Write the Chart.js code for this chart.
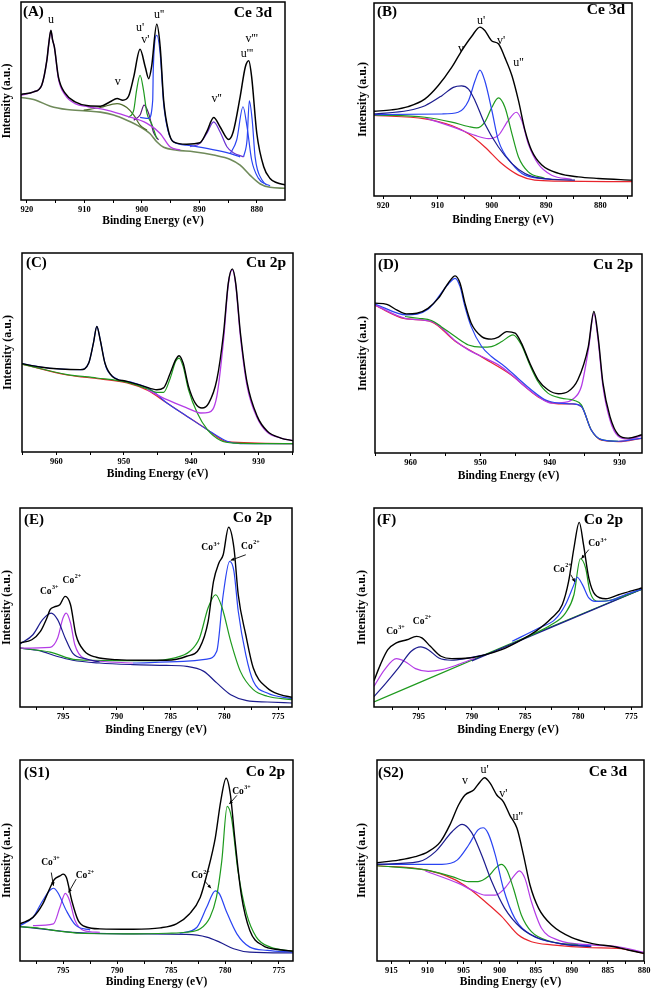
<!DOCTYPE html>
<html><head><meta charset="utf-8">
<script src="https://cdn.jsdelivr.net/npm/chart.js@4.4.0/dist/chart.umd.min.js"></script>
<style>
body{margin:0;background:#fff;width:652px;height:992px;position:relative;overflow:hidden}
canvas{position:absolute}
</style>
</head><body>
<script>
// ---------- DATA: [binding energy (eV), intensity (a.u., 0-100 of frame)] ----------
// Panel A  Ce 3d
const A_total=[[921.0,53.3],[918.8,54.6],[917.4,58.0],[916.5,70.6],[916.2,78.2],[915.8,85.7],[915.5,80.7],[915.2,77.3],[914.5,62.2],[913.3,53.8],[911.6,49.6],[909.3,47.6],[907.2,47.4],[905.5,49.6],[904.3,51.3],[903.3,50.4],[902.3,52.4],[901.4,62.2],[900.3,76.1],[899.4,67.2],[898.8,61.3],[898.3,67.2],[897.4,88.7],[896.8,77.3],[896.2,50.4],[895.4,35.3],[894.5,29.4],[892.2,28.2],[889.9,28.9],[888.7,34.5],[887.5,41.7],[886.4,37.0],[884.9,30.6],[884.1,34.5],[882.9,52.1],[882.0,67.2],[881.4,70.3],[880.9,62.2],[880.0,33.6],[878.8,16.8],[877.7,10.9],[876.5,8.7],[875.1,7.6]];
const A_bg=[[921.0,51.8],[918.8,50.8],[915.9,47.4],[913.0,45.7],[909.6,45.0],[907.2,44.4],[904.9,42.9],[902.6,40.3],[900.3,37.0],[898.6,33.6],[897.4,29.4],[896.2,26.6],[893.9,25.2],[891.0,24.4],[887.5,22.7],[884.6,20.5],[882.9,17.6],[881.2,12.6],[879.4,8.1],[877.7,6.4],[875.1,5.9]];
const A_u=[[921.0,52.9],[918.8,54.6],[917.4,58.0],[916.5,70.6],[916.2,78.2],[915.8,85.4],[915.5,80.7],[915.2,77.3],[914.5,61.3],[913.3,52.9],[911.6,48.7],[909.3,47.1],[906.1,45.4],[902.6,42.4],[899.1,38.7],[896.8,33.6],[895.1,26.9],[893.3,25.2]];
const A_v=[[910.1,45.4],[907.2,46.7],[904.3,48.7],[902.6,46.7],[901.4,42.9],[900.3,37.8],[899.1,35.3]];
const A_u1=[[902.3,41.7],[901.4,45.4],[900.9,55.5],[900.3,63.0],[899.7,55.5],[899.1,43.7],[898.3,38.7],[897.4,31.0]];
const A_v1=[[901.4,40.3],[900.3,42.9],[899.6,47.9],[898.8,43.7],[898.0,34.5],[897.1,30.3]];
const A_u2=[[900.3,41.7],[898.8,41.2],[898.1,50.4],[898.0,66.0],[897.4,83.2],[896.8,73.9],[896.2,48.7],[895.4,34.5],[894.5,29.4],[892.2,27.7],[888.7,26.1],[885.2,23.9],[882.9,21.8]];
const A_v2=[[891.6,26.9],[889.9,28.6],[888.7,33.6],[887.5,39.5],[886.4,34.5],[885.2,26.9],[884.1,23.9],[882.3,21.8]];
const A_u3=[[884.6,23.5],[883.5,30.3],[882.4,47.1],[881.7,37.0],[880.9,20.2],[879.7,10.9],[878.3,7.6]];
const A_v3=[[882.3,21.8],[881.7,30.3],[881.3,50.1],[880.8,40.3],[880.3,21.8],[879.1,10.1],[877.7,7.1]];
const A_marks=[["u","",915.8,90.8],["u'","",900.3,87.1],["v'","",899.4,80.7],["u''","",897.0,93.3],["v","",904.2,59.7],["v''","",887.0,51.3],["v'''","",880.9,81.5],["u'''","",881.7,73.9]];

// Panel B  Ce 3d
const B_total=[[921.7,43.9],[918.5,44.6],[915.4,46.3],[912.3,50.3],[909.9,57.1],[907.4,66.6],[905.6,75.1],[903.7,82.8],[902.2,87.5],[901.3,85.8],[900.0,80.3],[898.8,78.9],[897.6,71.7],[896.3,62.3],[895.1,49.4],[893.9,34.0],[892.7,23.7],[890.8,16.0],[887.7,11.7],[884.1,9.9],[880.4,9.1],[874.2,8.2]];
const B_v=[[921.7,42.5],[915.4,44.3],[912.3,46.8],[909.2,52.0],[907.1,56.3],[905.6,57.1],[904.3,55.4],[903.1,49.4],[901.3,37.4],[898.8,25.4],[896.3,16.8],[893.9,11.7],[890.8,9.1],[884.7,8.2]];
const B_u1=[[921.7,42.2],[909.2,42.5],[906.2,43.4],[904.3,49.4],[903.1,59.7],[902.2,65.2],[901.3,59.7],[900.0,44.3],[898.8,28.8],[896.3,16.8],[893.9,10.8],[889.0,8.6]];
const B_v1=[[921.7,42.0],[912.3,40.8],[907.4,38.3],[904.3,36.0],[902.8,35.3],[901.3,38.3],[900.0,46.0],[898.8,50.8],[897.6,46.0],[896.3,32.2],[895.1,20.2],[893.3,12.5],[890.2,9.1]];
const B_u2=[[912.3,40.5],[906.2,34.8],[903.1,31.4],[900.6,29.7],[898.8,31.4],[897.0,39.1],[895.5,43.4],[894.5,39.1],[893.3,27.1],[891.5,16.8],[889.0,10.8],[885.3,8.6]];
const B_bg=[[921.7,41.7],[912.3,40.0],[907.4,36.5],[904.3,32.2],[901.3,25.4],[898.2,16.8],[895.1,10.8],[892.1,8.2],[887.7,7.7],[874.2,7.4]];
const B_marks=[["u'","",902.0,90.6],["v","",905.7,76.0],["v'","",898.3,80.3],["u''","",895.1,69.1]];

// Panel C  Cu 2p
const C_total=[[965.1,44.4],[962.4,42.7],[959.4,41.7],[956.4,41.4],[955.2,44.7],[954.5,54.8],[954.0,63.1],[953.5,56.4],[952.8,44.7],[951.7,38.0],[949.5,35.5],[947.0,33.0],[945.1,31.3],[944.1,32.2],[943.1,39.7],[942.3,46.4],[941.8,48.4],[941.2,44.7],[940.4,33.0],[939.4,24.6],[938.4,22.1],[937.4,24.6],[936.2,36.3],[935.2,59.8],[934.5,84.9],[933.9,92.0],[933.4,84.9],[932.7,59.8],[931.7,34.7],[930.2,17.9],[928.7,10.4],[926.7,7.0],[924.9,5.7]];
const C_blue=[[965.1,44.4],[962.4,42.7],[959.4,41.7],[956.4,41.4],[955.2,44.7],[954.5,54.8],[954.0,63.1],[953.5,56.4],[952.8,44.7],[952.5,41.4],[951.0,36.7],[948.5,34.7],[946.0,31.3],[943.6,24.6],[940.6,17.9],[937.6,11.2],[934.7,5.4],[932.7,4.2],[924.9,4.2]];
const C_green=[[965.1,44.2],[958.4,38.9],[954.0,37.2],[949.5,35.0],[946.5,31.7],[945.1,30.0],[944.1,30.0],[943.1,37.2],[942.3,45.6],[941.8,47.2],[941.2,43.0],[940.4,31.3],[939.1,19.6],[937.6,11.2],[935.7,5.9],[933.7,4.5],[924.9,4.2]];
const C_mag=[[946.5,31.3],[943.6,26.3],[940.6,22.1],[938.6,19.6],[937.4,19.9],[936.2,28.0],[935.2,56.4],[934.5,84.1],[933.9,91.6],[933.4,84.1],[932.7,58.1],[931.7,33.0],[930.2,17.1],[928.7,9.9],[926.7,7.0],[924.9,5.7]];
const C_red=[[965.1,44.2],[958.4,38.7],[953.5,36.7],[949.5,34.7],[946.5,31.0],[943.6,24.6],[940.6,17.9],[937.6,11.2],[934.7,5.2],[924.9,4.2]];

// Panel D  Cu 2p
const D_total=[[965.1,75.3],[963.4,74.7],[962.0,71.9],[960.6,69.9],[959.1,70.2],[957.5,72.7],[956.0,77.8],[954.6,85.3],[953.6,89.0],[952.9,85.3],[952.2,75.3],[951.3,65.2],[949.8,58.5],[948.4,57.2],[947.4,58.2],[946.2,61.0],[945.0,60.2],[944.1,55.2],[942.9,45.2],[941.7,36.8],[940.3,31.8],[938.8,29.8],[937.4,30.9],[936.0,36.8],[934.5,53.5],[933.7,71.1],[933.1,58.5],[932.4,35.1],[931.4,18.4],[930.2,9.2],[928.8,7.5],[926.8,9.2]];
const D_blue=[[965.1,74.9],[960.6,69.4],[957.5,72.2],[954.6,84.8],[953.6,87.8],[952.9,83.6],[952.2,73.6],[951.3,63.5],[949.8,53.5],[948.4,48.5],[946.5,43.5],[944.6,37.6],[942.7,31.8],[940.7,26.8],[938.8,25.1],[936.9,24.7],[935.5,23.4],[934.1,11.7],[932.6,6.7],[930.2,5.9],[926.8,7.5]];
const D_green=[[960.8,68.6],[958.9,67.7],[957.0,66.6],[955.6,63.5],[953.6,58.5],[951.7,54.3],[949.8,53.2],[948.4,53.5],[946.9,56.0],[945.3,59.4],[944.1,54.3],[942.9,44.3],[941.7,35.8],[940.3,30.1],[938.4,27.6],[936.5,26.4],[935.5,24.2],[934.1,11.7],[932.6,6.7],[930.2,5.9]];
const D_mag=[[965.1,74.4],[960.8,67.7],[957.0,66.1],[955.6,63.0],[953.6,56.4],[951.7,51.8],[949.8,48.5],[947.4,44.3],[945.5,39.3],[943.6,33.4],[941.7,28.4],[939.8,25.1],[937.9,25.4],[936.7,27.1],[935.5,33.4],[934.5,51.8],[933.7,70.2],[933.1,56.9],[932.4,33.4],[931.4,16.7],[930.2,8.4],[928.8,7.0],[926.8,8.7]];
const D_red=[[965.1,74.2],[960.8,67.5],[957.0,65.9],[953.6,56.2],[949.8,48.3],[945.5,39.1],[941.7,28.2],[938.8,24.7],[936.9,24.7],[935.5,23.4],[934.1,11.7],[932.6,6.4],[930.2,5.7],[926.8,7.4]];

// Panel E  Co 2p
const E_total=[[799.0,32.2],[797.9,33.8],[797.1,38.0],[796.5,44.7],[796.2,48.9],[795.8,50.3],[795.3,51.4],[794.8,55.6],[794.3,51.4],[793.8,36.3],[793.0,28.0],[791.9,25.0],[790.0,23.8],[787.8,23.5],[785.4,23.5],[783.5,25.5],[782.3,29.6],[781.5,43.0],[781.0,63.1],[780.5,72.4],[780.1,76.5],[779.6,90.3],[779.1,79.9],[778.7,56.4],[778.0,36.3],[777.3,19.6],[776.0,9.5],[774.8,6.2],[773.7,4.9]];
const E_co3a=[[799.0,31.7],[797.8,36.3],[796.9,43.9],[796.1,47.2],[795.5,43.9],[794.8,34.7],[794.1,27.1],[792.8,24.1],[791.6,22.6]];
const E_co2a=[[799.0,29.6],[796.2,30.0],[795.5,34.7],[795.0,44.7],[794.7,47.2],[794.3,42.2],[793.9,31.3],[793.1,24.6],[791.6,23.0],[788.5,22.1]];
const E_co3b=[[799.0,29.6],[796.2,27.6],[793.8,23.8],[790.0,23.3],[786.9,23.3],[784.7,24.6],[783.2,28.0],[782.3,34.7],[781.5,49.9],[780.8,56.4],[780.2,49.9],[779.4,33.0],[778.5,17.9],[777.3,8.7],[776.0,5.4],[773.7,3.7]];
const E_co2b=[[788.5,22.1],[783.8,22.9],[781.6,24.1],[780.7,28.0],[780.1,56.4],[779.5,73.2],[779.1,68.2],[778.7,48.1],[778.0,26.3],[777.3,12.9],[776.0,7.0],[773.7,4.2]];
const E_bg=[[799.0,29.6],[797.2,28.3],[795.6,25.5],[794.1,23.5],[791.6,22.1],[788.5,21.3],[785.4,20.9],[783.5,20.4],[781.9,17.9],[780.7,12.1],[779.4,6.2],[777.9,3.2],[776.0,2.5],[773.7,2.0]];
const E_marks=[["Co","3+",796.3,58.1],["Co","2+",794.2,63.5],["Co","3+",781.3,79.9],["Co","2+",777.6,80.7]];
const E_arrows=[[778.0,76.5,779.4,73.7]];

// Panel F  Co 2p
const F_total=[[799.2,13.2],[798.6,21.3],[797.9,28.8],[797.1,32.2],[796.1,33.8],[795.2,35.5],[794.7,34.7],[793.9,30.5],[792.9,25.5],[791.9,24.3],[790.3,24.6],[788.7,26.3],[787.2,28.8],[785.6,33.0],[784.0,38.0],[782.5,44.7],[781.5,51.4],[780.9,63.1],[780.4,79.9],[779.9,92.8],[779.5,81.6],[779.0,64.8],[778.4,56.4],[777.4,54.4],[776.2,56.4],[774.9,58.5],[774.0,59.8]];
const F_bg=[[799.2,2.5],[786.6,31.3],[774.0,59.3]];
const F_bg2=[[790.0,23.2],[774.0,59.3]];
const F_co2a=[[799.2,5.2],[798.2,11.2],[796.9,19.6],[795.7,28.0],[794.8,30.2],[794.1,28.8],[793.1,24.6],[791.9,23.5],[790.6,24.3],[788.5,26.6]];
const F_co3a=[[799.2,10.4],[798.2,18.8],[797.1,24.3],[796.3,22.9],[795.3,19.3],[794.1,17.9],[792.8,18.8],[791.3,21.3],[789.7,24.6]];
const F_co2b=[[786.2,33.0],[783.7,39.7],[782.2,43.9],[781.2,51.4],[780.4,61.5],[780.1,65.2],[779.6,61.5],[779.0,54.8],[778.4,53.1],[777.1,53.4],[775.6,56.4],[774.0,59.3]];
const F_co3b=[[785.0,34.7],[782.5,41.4],[781.2,47.2],[780.4,56.4],[779.8,74.5],[779.3,69.8],[778.9,58.1],[778.1,53.1],[776.8,53.9],[774.0,59.3]];
const F_marks=[["Co","3+",797.2,38.0],["Co","2+",794.7,43.0],["Co","2+",781.5,69.0],["Co","3+",778.2,81.9]];
const F_arrows=[[780.7,66.5,780.3,62.8],[779.0,79.1,779.7,74.5]];

// Panel S1  Co 2p
const S1_total=[[799.0,18.5],[797.8,21.7],[796.9,28.3],[796.2,36.6],[795.8,40.7],[795.3,42.3],[795.0,43.2],[794.7,41.5],[794.2,30.0],[793.6,20.1],[792.8,16.8],[791.6,16.0],[788.5,15.8],[786.0,16.5],[784.5,18.5],[783.3,23.4],[782.3,31.6],[781.6,44.8],[780.9,61.3],[780.4,79.4],[779.9,90.9],[779.5,82.7],[779.1,61.3],[778.5,33.3],[777.7,15.2],[776.5,7.7],[774.9,5.6],[773.7,4.9]];
const S1_co3a=[[799.0,17.6],[797.8,21.7],[796.9,30.0],[796.2,35.3],[795.9,36.2],[795.5,34.1],[794.7,25.0],[793.8,17.6],[792.5,15.5]];
const S1_co2a=[[797.8,17.6],[795.9,18.5],[795.3,26.7],[794.8,33.6],[794.4,30.0],[793.9,20.1],[793.1,15.2],[791.6,14.3]];
const S1_co3b=[[799.0,17.1],[797.2,16.3],[795.3,14.8],[793.5,13.8],[788.5,13.5],[785.4,13.8],[783.6,14.3],[782.3,16.0],[781.4,21.7],[780.8,31.6],[780.3,49.8],[779.8,76.9],[779.4,71.2],[778.8,44.8],[778.0,23.4],[777.1,11.9],[775.8,6.9],[773.7,4.9]];
const S1_co2b=[[784.2,13.8],[782.6,16.8],[781.7,26.7],[780.9,34.9],[780.5,33.3],[779.9,25.0],[778.9,13.5],[777.7,6.9],[776.1,5.3],[773.7,4.4]];
const S1_bg=[[799.0,17.1],[796.2,15.5],[794.1,14.2],[788.5,13.5],[783.6,13.2],[781.7,11.9],[780.5,9.4],[779.2,6.1],[777.7,4.4],[773.7,4.0]];
const S1_marks=[["Co","3+",796.2,48.9],["Co","2+",793.0,42.3],["Co","2+",782.3,42.3],["Co","3+",778.5,84.3]];
const S1_arrows=[[796.1,44.0,795.9,37.4],[793.8,40.7,794.5,34.1],[781.9,39.9,781.3,36.2],[778.9,82.4,779.6,78.1]];

// Panel S2  Ce 3d
const S2_total=[[917.0,48.9],[914.0,50.2],[911.7,51.9],[909.9,54.4],[908.2,59.4],[906.9,67.7],[905.7,77.6],[904.8,82.6],[903.6,85.1],[902.7,89.2],[902.1,91.2],[901.3,88.4],[900.4,82.6],[899.5,79.3],[898.6,72.6],[897.6,66.0],[896.7,52.7],[895.8,37.8],[894.6,26.2],[892.8,17.9],[890.0,11.6],[887.3,8.8],[884.1,7.1],[882.2,5.5],[880.0,3.8]];
const S2_v=[[917.0,48.1],[911.2,49.4],[908.9,54.4],[906.6,64.3],[905.2,68.0],[903.9,64.0],[902.5,52.7],[901.1,39.5],[899.3,26.2],[897.0,16.3],[894.6,11.3],[891.0,8.3],[887.3,7.1]];
const S2_u1=[[917.0,48.1],[908.0,48.1],[905.9,50.2],[904.3,57.7],[903.0,65.2],[902.3,66.3],[901.6,63.5],[900.6,52.7],[899.5,36.2],[897.9,21.2],[895.6,12.9],[891.9,8.8],[887.3,7.5]];
const S2_v1=[[917.0,47.4],[910.3,45.3],[906.6,42.0],[904.3,39.5],[903.0,39.5],[901.6,42.0],[900.6,46.1],[899.8,48.1],[899.0,45.3],[898.1,36.2],[897.0,22.9],[895.6,14.6],[892.8,9.6],[889.1,8.0]];
const S2_u2=[[910.3,44.8],[905.7,38.6],[903.4,34.5],[902.0,32.8],[900.6,32.8],[899.3,36.2],[897.9,42.8],[897.3,44.8],[896.5,41.1],[895.6,29.5],[894.2,16.3],[891.9,10.4],[887.3,8.0],[883.6,7.1],[880.0,4.3]];
const S2_bg=[[917.0,47.4],[910.3,45.3],[906.6,41.1],[904.3,36.2],[902.0,29.5],[899.7,22.1],[897.4,12.9],[895.6,9.6],[892.8,8.0],[887.3,6.6],[883.6,6.3],[880.0,3.8]];
const S2_marks=[["v","",904.8,89.6],["u'","",902.1,95.0],["v'","",899.5,83.4],["u''","",897.5,71.8]];

// ---------- STYLE ----------
const SERIF='"Liberation Serif","Times New Roman",serif';
const K='#000000', MAG='#b43ce6', GRN='#1e9a1e', BLU='#2a44f2', NAV='#1c1c8e', RED='#e8242c', OLV='#4f6b2a', GRY='#6f8a5a', DPU='#561878', VIO='#6a32d2';

const annoPlugin={
  id:'anno',
  afterDatasetsDraw(chart){
    const o=chart.options.plugins.anno; if(!o) return;
    const {ctx,chartArea:a,scales:{x,y}}=chart;
    ctx.save();
    ctx.fillStyle='#000'; ctx.strokeStyle='#000';
    ctx.textBaseline='middle';
    for(const m of (o.marks||[])){
      const px=x.getPixelForValue(m[2]), py=y.getPixelForValue(m[3]);
      if(!m[1]){
        ctx.font='12px '+SERIF; ctx.textAlign='center';
        ctx.fillText(m[0],px,py);
      } else {
        ctx.font='bold 9.5px '+SERIF;
        const w1=ctx.measureText(m[0]).width;
        ctx.font='bold 6px '+SERIF;
        const w2=ctx.measureText(m[1]).width;
        const x0=px-(w1+w2)/2;
        ctx.textAlign='left';
        ctx.font='bold 9.5px '+SERIF; ctx.fillText(m[0],x0,py);
        ctx.font='bold 6px '+SERIF; ctx.fillText(m[1],x0+w1+0.5,py-4);
      }
    }
    for(const ar of (o.arrows||[])){
      const x1=x.getPixelForValue(ar[0]), y1=y.getPixelForValue(ar[1]);
      const x2=x.getPixelForValue(ar[2]), y2=y.getPixelForValue(ar[3]);
      ctx.lineWidth=0.9;
      ctx.beginPath(); ctx.moveTo(x1,y1); ctx.lineTo(x2,y2); ctx.stroke();
      const ang=Math.atan2(y2-y1,x2-x1), L=4;
      ctx.beginPath(); ctx.moveTo(x2,y2);
      ctx.lineTo(x2-L*Math.cos(ang-0.45),y2-L*Math.sin(ang-0.45));
      ctx.lineTo(x2-L*Math.cos(ang+0.45),y2-L*Math.sin(ang+0.45));
      ctx.closePath(); ctx.fill();
    }
    ctx.textBaseline='middle';
    ctx.font='bold 15px '+SERIF;
    ctx.textAlign='left'; ctx.fillText(o.letter,a.left+o.lp[0],a.top+o.lp[1]);
    ctx.font='bold 15.5px '+SERIF;
    ctx.textAlign='right'; ctx.fillText(o.title,a.right-o.tp[0],a.top+o.tp[1]);
    ctx.lineWidth=1.5; ctx.strokeStyle='#000';
    ctx.strokeRect(a.left,a.top,a.right-a.left,a.bottom-a.top);
    ctx.restore();
  }
};
Chart.register(annoPlugin);

function panel(p){
  const pt=2, pr=14;
  const [l,t,r,b]=p.box;
  const W=p.yw+(r-l)+pr, H=pt+(b-t)+p.xh;
  const c=document.createElement('canvas');
  c.width=W; c.height=H;
  c.style.left=(l-p.yw)+'px'; c.style.top=(t-pt)+'px';
  c.style.width=W+'px'; c.style.height=H+'px';
  document.body.appendChild(c);
  new Chart(c,{
    type:'line',
    data:{datasets:p.series.map(s=>({
      data:s[0].map(q=>({x:q[0],y:q[1]})),
      borderColor:s[1], borderWidth:s[2]||1.2,
      pointRadius:0, fill:false, cubicInterpolationMode:'monotone'
    }))},
    options:{
      responsive:false, animation:false, events:[], devicePixelRatio:1,
      layout:{padding:{top:pt,right:pr,left:0,bottom:0}},
      plugins:{legend:{display:false},tooltip:{enabled:false},
        anno:{marks:p.marks||[],arrows:p.arrows||[],letter:p.letter,title:p.title,lp:p.lp,tp:p.tp}},
      scales:{
        x:{type:'linear',reverse:true,min:p.xr[1],max:p.xr[0],
          ticks:{stepSize:p.step,includeBounds:false,autoSkip:false,maxRotation:0,padding:2,color:'#000',
            font:{family:SERIF,size:8.5,weight:'bold'},
            callback:v=>(Math.abs(v/p.major-Math.round(v/p.major))<1e-6?String(v):'')},
          grid:{display:true,drawOnChartArea:false,drawTicks:true,tickLength:3,color:'#000',lineWidth:1},
          border:{display:false},
          title:{display:true,text:'Binding Energy (eV)',color:'#000',padding:0,
            font:{family:SERIF,size:11.5,weight:'bold'}},
          afterFit:s=>{s.height=p.xh;}
        },
        y:{type:'linear',min:0,max:100,
          ticks:{display:false},grid:{display:false,drawTicks:false},border:{display:false},
          title:{display:true,text:'Intensity (a.u.)',color:'#000',padding:0,
            font:{family:SERIF,size:12,weight:'bold'}},
          afterFit:s=>{s.width=p.yw;}
        }
      }
    }
  });
}

panel({box:[21,2,285,200],xr:[921,875.1],step:5,major:10,yw:21,xh:28,letter:'(A)',title:'Ce 3d',lp:[2,10],tp:[13,11],
  marks:A_marks,
  series:[[A_total,K,1.5],[A_u,MAG,1.3],[A_u2,BLU],[A_u1,GRN],[A_v1,DPU],[A_v,OLV],[A_v2,VIO],[A_u3,BLU],[A_v3,BLU],[A_bg,GRY,1.6]]});
panel({box:[374,3,632,196],xr:[921.7,874.2],step:5,major:10,yw:18,xh:31,letter:'(B)',title:'Ce 3d',lp:[3,9],tp:[7,7],
  marks:B_marks,
  series:[[B_total,K,1.4],[B_v,NAV],[B_u1,BLU],[B_v1,GRN],[B_u2,MAG],[B_bg,RED]]});
panel({box:[22,253,293,452],xr:[965.1,924.9],step:5,major:10,yw:21,xh:29,letter:'(C)',title:'Cu 2p',lp:[4,10],tp:[7,10],
  series:[[C_total,K,1.4],[C_mag,MAG,1.3],[C_green,GRN],[C_blue,BLU],[C_red,RED]]});
panel({box:[375,254,642,453],xr:[965.1,926.8],step:5,major:10,yw:19,xh:30,letter:'(D)',title:'Cu 2p',lp:[3,11],tp:[9,11],
  series:[[D_total,K,1.4],[D_blue,BLU],[D_green,GRN],[D_mag,MAG,1.3],[D_red,RED]]});
panel({box:[20,508,292,707],xr:[799,773.7],step:2.5,major:5,yw:20,xh:30,letter:'(E)',title:'Co 2p',lp:[4,12],tp:[20,10],
  marks:E_marks,arrows:E_arrows,
  series:[[E_total,K,1.4],[E_co3a,NAV],[E_co2a,MAG],[E_co3b,GRN],[E_co2b,BLU],[E_bg,NAV]]});
panel({box:[374,508,642,707],xr:[799.2,774],step:2.5,major:5,yw:19,xh:30,letter:'(F)',title:'Co 2p',lp:[3,12],tp:[19,12],
  marks:F_marks,arrows:F_arrows,
  series:[[F_total,K,1.4],[F_co2b,BLU],[F_co3b,GRN],[F_co2a,NAV],[F_co3a,MAG],[F_bg2,NAV],[F_bg,GRN]]});
panel({box:[20,760,293,961],xr:[799,773.7],step:2.5,major:5,yw:20,xh:28,letter:'(S1)',title:'Co 2p',lp:[4,13],tp:[8,12],
  marks:S1_marks,arrows:S1_arrows,
  series:[[S1_total,K,1.4],[S1_co3a,BLU],[S1_co2a,MAG],[S1_co3b,GRN],[S1_co2b,BLU],[S1_bg,NAV]]});
panel({box:[377,760,644,961],xr:[917,880],step:2.5,major:5,yw:22,xh:28,letter:'(S2)',title:'Ce 3d',lp:[1,13],tp:[17,12],
  marks:S2_marks,
  series:[[S2_total,K,1.4],[S2_v,NAV],[S2_u1,BLU],[S2_v1,GRN],[S2_u2,MAG],[S2_bg,RED]]});
</script>
</body></html>
